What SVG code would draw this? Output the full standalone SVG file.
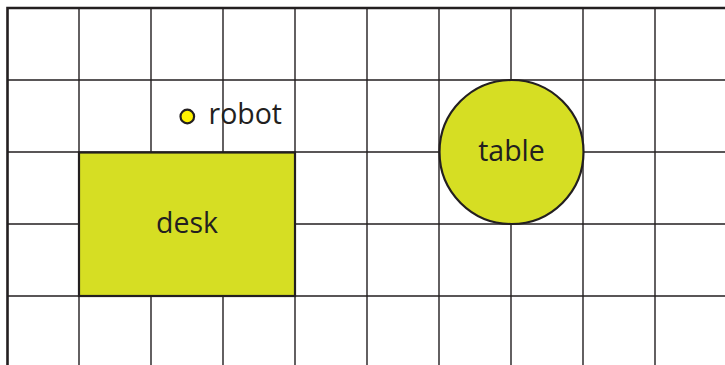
<svg xmlns="http://www.w3.org/2000/svg" width="725" height="365" viewBox="0 0 725 365">
<style>
.grid{stroke:#231f20;stroke-width:1.4;fill:none}
.border{stroke:#231f20;stroke-width:2.6;fill:none}
.shape{fill:#d6de23;stroke:#231f20;stroke-width:2.2}
.lbl{font-family:"Open Sans","Liberation Sans",sans-serif;font-size:28.5px;fill:#231f20}
</style>
<rect width="725" height="365" fill="#ffffff"/>
<g id="grid">
<path class="grid" d="M79 8V365M151 8V365M223 8V365M295 8V365M367 8V365M439 8V365M511 8V365M583 8V365M655 8V365"/>
<path class="grid" d="M7.5 80H725M7.5 152H725M7.5 224H725M7.5 296H725"/>
<path class="border" d="M7.5 365V8H725"/>
</g>
<g id="desk">
<rect class="shape" x="79" y="152.5" width="216" height="143.5"/>
<text class="lbl" x="187" y="232.5" text-anchor="middle">desk</text>
</g>
<g id="table">
<circle class="shape" cx="511.5" cy="152" r="72"/>
<text class="lbl" x="511.5" y="160.7" text-anchor="middle">table</text>
</g>
<g id="robot">
<circle cx="187.3" cy="116.5" r="6.8" fill="#fff200" stroke="#231f20" stroke-width="2.2"/>
<text class="lbl" x="208.5" y="124.3">robot</text>
</g>
<g id="connectors"/>
</svg>
